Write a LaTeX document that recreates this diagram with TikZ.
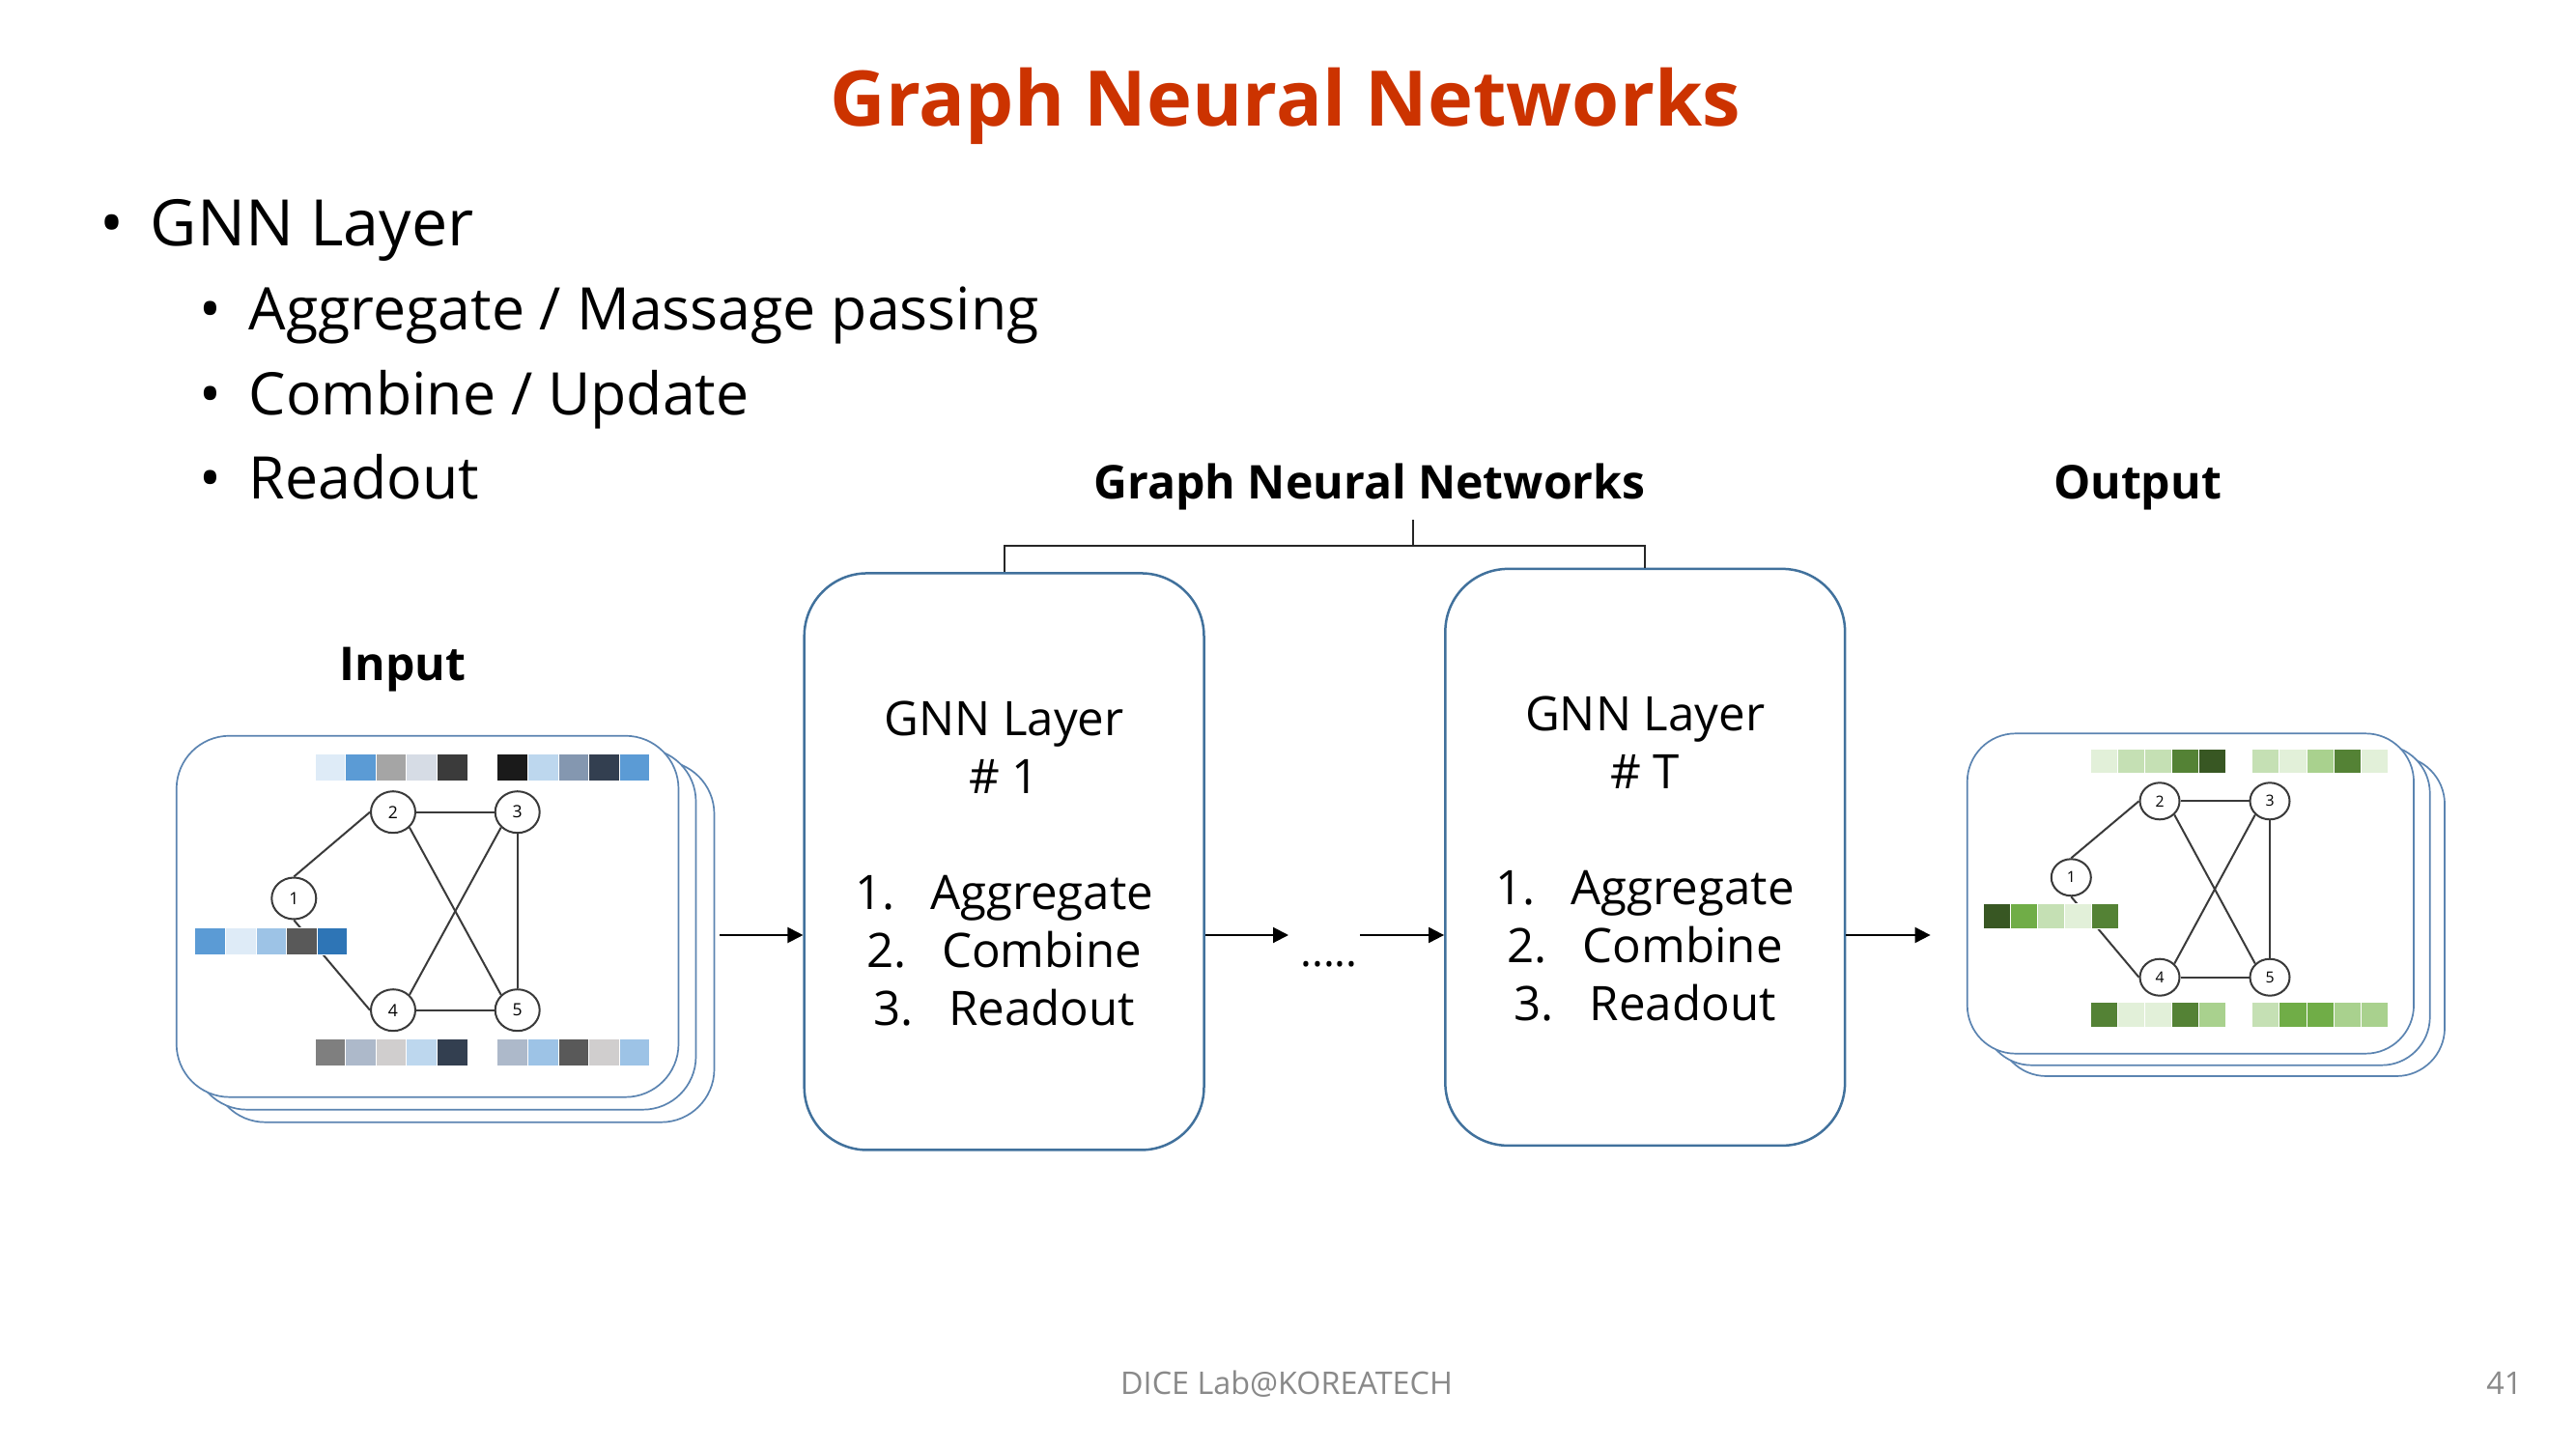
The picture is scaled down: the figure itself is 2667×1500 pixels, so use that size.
\documentclass[tikz,border=0pt]{standalone}
\usepackage{fontspec}
\setmainfont{Open Sans}
\usetikzlibrary{arrows.meta,shapes.geometric}

% palette
\definecolor{titlered}{HTML}{CC3300}
\definecolor{boxblue}{HTML}{41719C}
\definecolor{cardblue}{HTML}{5B84B1}
\definecolor{edgegray}{HTML}{3A3A3A}
\definecolor{footgray}{HTML}{898989}
% blue/grey feature cells
\definecolor{bA}{HTML}{DEEBF7}
\definecolor{bB}{HTML}{5B9BD5}
\definecolor{bC}{HTML}{A5A5A5}
\definecolor{bD}{HTML}{D6DCE5}
\definecolor{bE}{HTML}{3B3B3B}
\definecolor{bF}{HTML}{1A1A1A}
\definecolor{bG}{HTML}{BDD7EE}
\definecolor{bH}{HTML}{8497B0}
\definecolor{bI}{HTML}{333F50}
\definecolor{bJ}{HTML}{9DC3E6}
\definecolor{bK}{HTML}{595959}
\definecolor{bL}{HTML}{2E75B6}
\definecolor{bM}{HTML}{7F7F7F}
\definecolor{bN}{HTML}{ADB9CA}
\definecolor{bO}{HTML}{D0CECE}
% green feature cells
\definecolor{gA}{HTML}{E2F0D9}
\definecolor{gB}{HTML}{C5E0B4}
\definecolor{gC}{HTML}{A9D18E}
\definecolor{gD}{HTML}{70AD47}
\definecolor{gE}{HTML}{548235}
\definecolor{gF}{HTML}{385723}

% one feature vector: x0, y0, cell width, cell height, colour list
\newcommand{\featbar}[5]{%
  \foreach \barcol [count=\idx from 0] in {#5}
    \filldraw[fill=\barcol, draw=white, line width=0.08mm]
      ({#1+\idx*#3},#2) rectangle ++(#3,#4);
}

\begin{document}
\begin{tikzpicture}[x=0.1mm,y=-0.1mm,
  title/.style={font=\fontsize{22.6}{27}\selectfont\bfseries, text=titlered, inner sep=0, anchor=base},
  lvlone/.style={font=\fontsize{18.9}{23}\selectfont, inner sep=0, anchor=base west},
  lvltwo/.style={font=\fontsize{17.3}{21}\selectfont, inner sep=0, anchor=base west},
  bulone/.style={font=\fontsize{18.9}{23}\selectfont, inner sep=0, anchor=base},
  bultwo/.style={font=\fontsize{17.3}{21}\selectfont, inner sep=0, anchor=base},
  heading/.style={font=\fontsize{13.7}{16}\selectfont\bfseries, inner sep=0, anchor=base},
  gnnbox/.style={draw=boxblue, line width=0.25mm, rounded corners=6.5mm,
    minimum width=41.38mm, minimum height=59.7mm, inner sep=0},
  gnntext/.style={font=\fontsize{14}{17.07}\selectfont, align=center, inner sep=0},
  card/.style={draw=cardblue, line width=0.17mm, fill=white, inner sep=0},
  incard/.style={card, minimum width=51.98mm, minimum height=37.4mm, rounded corners=5.5mm},
  outcard/.style={card, minimum width=46.23mm, minimum height=33.14mm, rounded corners=5mm},
  ingnode/.style={ellipse, draw=edgegray, line width=0.2mm, fill=white, inner sep=0,
    minimum width=4.6mm, minimum height=4.3mm, font=\fontsize{5}{6}\selectfont},
  outgnode/.style={ellipse, draw=edgegray, line width=0.2mm, fill=white, inner sep=0,
    minimum width=4.1mm, minimum height=3.8mm, font=\fontsize{4.5}{5}\selectfont},
  gedge/.style={draw=edgegray, line width=0.2mm},
  flow/.style={line width=0.2mm, -{Triangle[length=1.6mm,width=1.6mm]}},
  brace/.style={line width=0.2mm, draw=black!85},
  footer/.style={font=\fontsize{9.2}{11}\selectfont, text=footgray, inner sep=0}
]
\useasboundingbox (0,0) rectangle (2667,1500);
\fill[white] (0,0) rectangle (2667,1500);

% title and bullet list
\node[title] (title) at (1331,130.7) {Graph Neural Networks};
\node[bulone] (b1) at (116,254) {•};
\node[lvlone] (t1) at (155,254) {GNN Layer};
\node[bultwo] (b2) at (218,342) {•};
\node[lvltwo] (t2) at (257,342) {Aggregate / Massage passing};
\node[bultwo] (b3) at (218,429) {•};
\node[lvltwo] (t3) at (257,429) {Combine / Update};
\node[bultwo] (b4) at (218,516) {•};
\node[lvltwo] (t4) at (257,516) {Readout};

% column headings
\node[heading] (hGnn) at (1418,516) {Graph Neural Networks};
\node[heading] (hOut) at (2213,516) {Output};
\node[heading] (hIn) at (417,704) {Input};

% input graph cards
\node[incard] (inC) at (479.6,974.7) {};
\node[incard] (inB) at (460.6,961.7) {};
\node[incard] (inA) at (442.6,948.7) {};

% input graph
\node[ingnode] (i1) at (304.3,930) {1};
\node[ingnode] (i2) at (407,840.7) {2};
\node[ingnode] (i3) at (535.7,840.7) {3};
\node[ingnode] (i4) at (407,1045.7) {4};
\node[ingnode] (i5) at (535.7,1045.7) {5};
\draw[gedge] (i1.north) -- (i2.west);
\draw[gedge] (i1.south) -- (i4.west);
\draw[gedge] (i2.east) -- (i3.west);
\draw[gedge] (i2.south east) -- (i5.north west);
\draw[gedge] (i3.south west) -- (i4.north east);
\draw[gedge] (i3.south) -- (i5.north);
\draw[gedge] (i4.east) -- (i5.west);

% input feature vectors
\featbar{326}{780}{31.6}{28}{bA,bB,bC,bD,bE}
\featbar{514.7}{780}{31.6}{28}{bF,bG,bH,bI,bB}
\featbar{201.7}{960}{31.6}{28}{bB,bA,bJ,bK,bL}
\featbar{326}{1075.7}{31.6}{28}{bM,bN,bO,bG,bI}
\featbar{514.7}{1075.7}{31.6}{28}{bN,bJ,bK,bO,bJ}

% GNN layers
\node[gnnbox] (gnnA) at (1039.6,891.95) {};
\node[gnnbox] (gnnB) at (1703.25,887.4) {};
\node[gnntext] (gnnAtext) at (1039.6,894)
  {GNN Layer\\\# 1\\[17.07pt]1.\hspace{0.75em}Aggregate\\2.\hspace{0.75em}Combine\\3.\hspace{0.75em}Readout};
\node[gnntext] (gnnBtext) at (1703.25,889.5)
  {GNN Layer\\\# T\\[17.07pt]1.\hspace{0.75em}Aggregate\\2.\hspace{0.75em}Combine\\3.\hspace{0.75em}Readout};

% bracket grouping the layers
\coordinate (brk) at (1463,565);
\coordinate (brkTop) at (1463,538);
\draw[brace] (gnnA.north) |- (brk) -| (gnnB.north);
\draw[brace] (brk) -- (brkTop);

% flow arrows
\coordinate (inOut) at (745,968);
\coordinate (toDots) at (1334,968);
\coordinate (fromDots) at (1408,968);
\coordinate (toOut) at (1998.6,968);
\draw[flow] (inOut) -- (inOut -| gnnA.west);
\draw[flow] (gnnA.east |- toDots) -- (toDots);
\draw[flow] (fromDots) -- (fromDots -| gnnB.west);
\draw[flow] (gnnB.east |- toOut) -- (toOut);
\node[font=\fontsize{12.7}{14}\selectfont, inner sep=0, anchor=base] (dots) at (1376,1000) {.....};

% output graph cards
\node[outcard] (outC) at (2299.9,948.3) {};
\node[outcard] (outB) at (2284.6,937) {};
\node[outcard] (outA) at (2267.9,925) {};

% output graph
\node[outgnode] (o1) at (2144.3,908.3) {1};
\node[outgnode] (o2) at (2236,829.3) {2};
\node[outgnode] (o3) at (2350,829.3) {3};
\node[outgnode] (o4) at (2236,1011.7) {4};
\node[outgnode] (o5) at (2350,1011.7) {5};
\draw[gedge] (o1.north) -- (o2.west);
\draw[gedge] (o1.south) -- (o4.west);
\draw[gedge] (o2.east) -- (o3.west);
\draw[gedge] (o2.south east) -- (o5.north west);
\draw[gedge] (o3.south west) -- (o4.north east);
\draw[gedge] (o3.south) -- (o5.north);
\draw[gedge] (o4.east) -- (o5.west);

% output feature vectors
\featbar{2164}{775}{28.1}{25.3}{gA,gB,gB,gE,gF}
\featbar{2331.7}{775}{28.1}{25.3}{gB,gA,gC,gE,gA}
\featbar{2053.3}{935.7}{28.1}{25.3}{gF,gD,gB,gA,gE}
\featbar{2164}{1037.7}{28.1}{25.3}{gE,gA,gA,gE,gC}
\featbar{2331.7}{1037.7}{28.1}{25.3}{gB,gD,gD,gC,gC}

% footer
\node[footer, anchor=base] (foot) at (1332,1443) {DICE Lab@KOREATECH};
\node[footer, anchor=base east] (page) at (2612,1443) {41};
\end{tikzpicture}
\end{document}
